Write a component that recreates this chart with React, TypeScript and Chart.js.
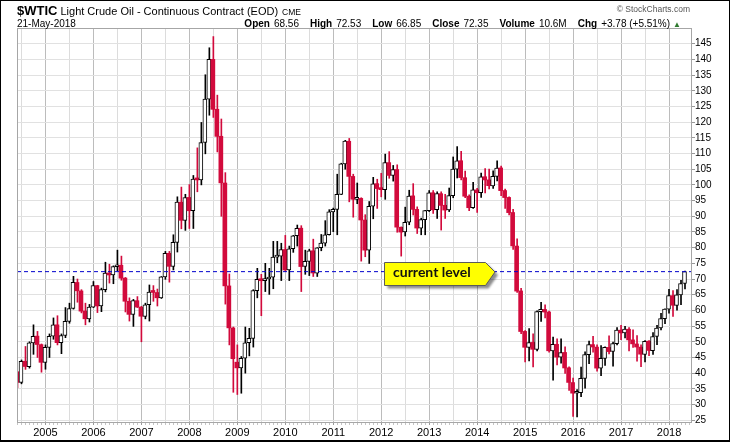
import React, { useEffect, useRef } from "react";
import { Chart, registerables } from "chart.js";

Chart.register(...registerables);

// Monthly candles, Jun 2004 .. May 2018 (168 months). Position index: month offset from Jan 2005.
const FIRST_MONTH_OFFSET = -7;

const opens: number[] = [
  40.4, 37.05, 43.8, 42.1, 49.6, 51.8, 49.1, // 2004 Jun-Dec
  43.45, 48.2, 51.75, 55.4, 49.7, 52.0, 56.5, 60.6, 68.9, 66.2, 59.8, 57.3, // 2005
  61.0, 67.9, 61.4, 66.6, 71.9, 71.3, 73.9, 74.4, 70.3, 62.9, 58.7, 63.1, // 2006
  61.05, 58.1, 61.8, 65.9, 65.7, 64.0, 70.7, 78.2, 74.0, 81.7, 94.5, 88.7, // 2007
  96.0, 91.75, 101.8, 101.6, 113.5, 127.35, 140.0, 124.1, 115.5, 100.6, 67.8, 54.4, // 2008
  43.5, 41.7, 44.8, 49.7, 51.1, 66.3, 69.9, 69.5, 70.0, 70.6, 77.0, 77.3, // 2009
  79.4, 72.9, 79.7, 83.8, 86.2, 74.0, 75.6, 79.0, 71.9, 80.0, 81.4, 84.1, // 2010
  91.4, 92.2, 97.0, 106.7, 113.9, 102.7, 95.4, 95.7, 88.8, 79.2, 93.2, 100.4, // 2011
  98.8, 98.5, 107.1, 103.0, 104.9, 86.5, 85.0, 88.1, 96.5, 92.2, 86.2, 88.9, // 2012
  91.8, 97.5, 92.1, 97.2, 93.5, 92.0, 96.6, 105.0, 107.7, 102.3, 96.4, 92.7, // 2013
  98.4, 97.5, 102.6, 101.6, 99.7, 102.7, 105.4, 98.2, 96.0, 91.2, 80.5, 66.2, // 2014
  53.3, 48.2, 49.8, 47.6, 59.6, 60.3, 59.5, 47.1, 49.2, 45.1, 46.6, 41.7, // 2015
  37.0, 33.6, 33.8, 38.3, 45.9, 49.1, 48.3, 41.6, 44.7, 48.2, 46.9, 49.4, // 2016
  53.7, 52.8, 54.0, 50.6, 49.3, 48.3, 46.0, 50.2, 47.2, 51.7, 54.4, 57.4, // 2017
  60.4, 64.7, 61.6, 64.9, 68.56, // 2018 Jan-May
];

const highs: number[] = [
  40.6, 44.2, 48.5, 50.0, 55.4, 53.3, 49.3,
  49.0, 52.5, 57.6, 58.3, 52.5, 60.9, 62.3, 70.85, 70.0, 66.6, 62.3, 61.9,
  69.2, 68.0, 67.1, 75.35, 74.7, 74.2, 79.2, 77.3, 70.5, 64.0, 63.5, 64.4,
  61.3, 62.3, 68.1, 67.9, 66.8, 70.8, 78.8, 78.8, 84.1, 96.2, 99.3, 97.0,
  100.1, 103.0, 111.8, 119.9, 135.1, 143.7, 147.27, 128.6, 121.0, 103.9, 71.6, 54.7,
  49.0, 45.3, 54.7, 54.3, 66.6, 73.4, 71.5, 75.0, 73.4, 82.0, 82.0, 81.4,
  83.9, 80.5, 83.9, 87.2, 87.0, 79.2, 79.5, 82.7, 80.0, 84.2, 88.6, 92.1,
  92.6, 103.4, 106.9, 114.2, 114.8, 103.4, 100.6, 95.9, 90.5, 94.7, 102.4, 101.8,
  103.7, 109.8, 110.6, 106.2, 106.4, 86.6, 92.9, 98.3, 100.4, 93.0, 89.4, 91.9,
  98.2, 98.2, 97.8, 97.8, 97.0, 99.0, 108.9, 112.2, 110.7, 104.4, 96.8, 100.8,
  98.9, 103.8, 105.2, 105.0, 104.5, 107.7, 106.0, 98.7, 96.2, 92.2, 82.8, 67.0,
  53.6, 54.2, 52.5, 59.9, 62.6, 61.8, 59.8, 51.5, 50.9, 50.9, 48.4, 42.0,
  38.4, 34.8, 41.9, 46.8, 50.2, 51.7, 49.0, 48.8, 48.4, 51.9, 49.9, 54.5,
  55.2, 54.9, 54.5, 53.8, 52.0, 49.0, 50.4, 50.4, 52.9, 55.2, 59.1, 60.5,
  66.7, 66.3, 66.6, 69.6, 72.53,
];

const lows: number[] = [
  35.4, 36.6, 41.2, 41.6, 46.0, 45.0, 40.3,
  41.25, 45.0, 50.8, 49.0, 46.2, 51.3, 55.9, 60.4, 62.6, 59.2, 55.4, 56.3,
  60.9, 59.3, 59.6, 65.9, 68.7, 68.5, 72.6, 69.6, 59.5, 56.6, 54.9, 60.9,
  50.0, 57.3, 56.6, 62.9, 61.4, 63.8, 69.9, 69.0, 72.9, 78.6, 86.0, 85.5,
  86.1, 86.1, 97.8, 100.0, 109.9, 122.2, 121.5, 110.5, 90.0, 62.0, 49.0, 33.9,
  33.2, 33.6, 40.0, 45.5, 48.3, 64.0, 58.3, 66.0, 65.1, 66.9, 75.2, 69.5,
  72.4, 69.5, 78.5, 80.5, 66.0, 71.5, 71.1, 70.8, 70.8, 79.0, 80.5, 84.0,
  85.1, 84.1, 96.9, 105.0, 94.6, 89.7, 94.0, 75.7, 77.1, 74.95, 89.2, 92.5,
  96.2, 95.4, 102.1, 101.2, 84.9, 77.3, 83.7, 87.3, 90.4, 84.5, 84.1, 84.1,
  91.5, 90.9, 89.3, 85.6, 89.3, 91.5, 95.9, 102.2, 101.6, 95.9, 91.8, 92.5,
  91.2, 96.0, 97.4, 98.7, 98.9, 101.3, 96.6, 92.5, 90.4, 79.4, 65.7, 52.6,
  43.6, 43.9, 42.0, 47.1, 56.5, 57.6, 46.7, 37.75, 42.6, 43.2, 39.9, 34.5,
  26.2, 26.05, 32.5, 35.2, 43.0, 46.7, 40.6, 39.2, 42.5, 46.1, 42.2, 49.0,
  50.7, 51.2, 47.1, 48.2, 43.8, 42.05, 43.6, 45.6, 46.0, 49.1, 53.8, 55.8,
  59.1, 58.1, 60.1, 61.8, 66.85,
];

const closes: number[] = [
  37.05, 43.8, 42.12, 49.64, 51.76, 49.13, 43.45,
  48.2, 51.75, 55.4, 49.72, 51.97, 56.5, 60.57, 68.94, 66.24, 59.76, 57.32, 61.04,
  67.92, 61.41, 66.63, 71.88, 71.29, 73.93, 74.4, 70.26, 62.91, 58.73, 63.13, 61.05,
  58.14, 61.79, 65.87, 65.71, 64.01, 70.68, 78.21, 74.04, 81.66, 94.53, 88.71, 95.98,
  91.75, 101.84, 101.58, 113.46, 127.35, 140.0, 124.08, 115.46, 100.64, 67.81, 54.43, 44.6,
  41.68, 44.76, 49.66, 51.12, 66.31, 69.89, 69.45, 69.96, 70.61, 77.0, 77.28, 79.36,
  72.89, 79.66, 83.76, 86.15, 73.97, 75.63, 78.95, 71.92, 79.97, 81.43, 84.11, 91.38,
  92.19, 96.97, 106.72, 113.93, 102.7, 95.42, 95.7, 88.81, 79.2, 93.19, 100.36, 98.83,
  98.48, 107.07, 103.02, 104.87, 86.53, 84.96, 88.06, 96.47, 92.19, 86.24, 88.91, 91.82,
  97.49, 92.05, 97.23, 93.46, 91.97, 96.56, 105.03, 107.65, 102.33, 96.38, 92.72, 98.42,
  97.49, 102.59, 101.58, 99.74, 102.71, 105.37, 98.17, 95.96, 91.16, 80.54, 66.15, 53.27,
  48.24, 49.76, 47.6, 59.63, 60.3, 59.47, 47.12, 49.2, 45.09, 46.59, 41.65, 37.04,
  33.62, 33.75, 38.34, 45.92, 49.1, 48.33, 41.6, 44.7, 48.24, 46.86, 49.44, 53.72,
  52.81, 54.01, 50.6, 49.33, 48.32, 46.04, 50.17, 47.23, 51.67, 54.38, 57.4, 60.42,
  64.73, 61.64, 64.94, 68.57, 72.35,
];

const yearLabels: string[] = [
  "2005", "2006", "2007", "2008", "2009", "2010", "2011",
  "2012", "2013", "2014", "2015", "2016", "2017", "2018",
];

const priceTicks: number[] = [
  25, 30, 35, 40, 45, 50, 55, 60, 65, 70, 75, 80, 85, 90, 95, 100,
  105, 110, 115, 120, 125, 130, 135, 140, 145,
];

const currentLevel = 72.35;

const X_MIN = -7.125;
const X_MAX = 161.5;
// bodies use a twin (hidden) axis shifted by half a pixel so 4px bodies land on whole pixels
const XB_SHIFT = 0.125;
const Y_MIN = 24.43;
const Y_MAX = 150;

const RED = "#d20a3c";
const FONT = "'Liberation Sans', Arial, Helvetica, sans-serif";

const plotFrame = {
  id: "plotFrame",
  afterDatasetsDraw(chart: any) {
    const { ctx, chartArea: a } = chart;
    ctx.save();
    ctx.strokeStyle = "#a6a6a6";
    ctx.lineWidth = 1;
    ctx.strokeRect(a.left + 0.5, a.top + 0.5, a.right - a.left, a.bottom - a.top);
    ctx.restore();
  },
};

export default function App() {
  const canvasRef = useRef<HTMLCanvasElement>(null);

  useEffect(() => {
    const canvas = canvasRef.current;
    if (!canvas) return;
    const pos = closes.map((_, i) => i + FIRST_MONTH_OFFSET);
    const isUp = closes.map((c, i) => c >= opens[i]);

    const monthTicks: { value: number }[] = [];
    for (let m = -7; m <= 161; m++) monthTicks.push({ value: m });

    const chart = new Chart(canvas, {
      type: "bar",
      data: {
        datasets: [
          {
            type: "line",
            data: [
              { x: X_MIN, y: currentLevel },
              { x: X_MAX, y: currentLevel },
            ],
            borderColor: "#0000cc",
            borderWidth: 1,
            borderDash: [4, 3],
            pointRadius: 0,
            tension: 0,
            order: 0,
            clip: 0,
          } as any,
          {
            type: "bar",
            xAxisID: "xb",
            data: pos.map((m, i) => ({ x: m, y: [opens[i], closes[i]] })),
            backgroundColor: (c: any) => (isUp[c.dataIndex] ? "#ffffff" : RED),
            borderColor: (c: any) => (isUp[c.dataIndex] ? "#000000" : RED),
            borderWidth: (c: any) => (isUp[c.dataIndex] ? 1 : 0),
            borderSkipped: false,
            barThickness: 4,
            minBarLength: 2,
            grouped: false,
            order: 1,
            clip: 0,
          } as any,
          {
            type: "bar",
            data: pos.map((m, i) => ({ x: m, y: [lows[i], highs[i]] })),
            backgroundColor: (c: any) => (isUp[c.dataIndex] ? "#000000" : RED),
            borderWidth: 0,
            borderSkipped: false,
            barThickness: 1,
            grouped: false,
            order: 2,
            clip: 0,
          } as any,
        ],
      },
      options: {
        animation: false,
        responsive: false,
        maintainAspectRatio: false,
        layout: { padding: { left: 17, top: 28, right: 0, bottom: 0 } },
        plugins: {
          legend: { display: false },
          tooltip: { enabled: false },
          title: { display: false },
        },
        scales: {
          x: {
            type: "linear",
            position: "bottom",
            min: X_MIN,
            max: X_MAX,
            offset: false,
            border: { display: false },
            grid: {
              offset: false,
              lineWidth: 1,
              drawTicks: true,
              tickLength: 3,
              color: (c: any) => {
                const v = c.tick ? c.tick.value : 1;
                if (v % 12 === 0) return "#bcbcbc";
                if (v % 6 === 0) return "#dcdcdc";
                return "rgba(0,0,0,0)";
              },
              tickColor: (c: any) => {
                const v = c.tick ? c.tick.value : 1;
                return v % 12 === 0 ? "#9a9a9a" : "#c4c4c4";
              },
            },
            afterBuildTicks: (scale: any) => {
              scale.ticks = monthTicks.map((t) => ({ value: t.value }));
            },
            afterFit: (scale: any) => {
              scale.height = 20;
            },
            ticks: {
              autoSkip: false,
              maxRotation: 0,
              minRotation: 0,
              padding: 1,
              color: "#000000",
              font: { family: FONT, size: 11 },
              callback: (v: any) => {
                const n = Number(v);
                if (n % 12 !== 0 || n < 0) return "";
                return yearLabels[n / 12] ?? "";
              },
            },
          },
          xb: {
            type: "linear",
            position: "bottom",
            display: false,
            min: X_MIN + XB_SHIFT,
            max: X_MAX + XB_SHIFT,
            offset: false,
            grid: { display: false, offset: false },
          },
          y: {
            type: "linear",
            position: "right",
            min: Y_MIN,
            max: Y_MAX,
            beginAtZero: false,
            border: { display: false },
            grid: {
              color: "#e1e1e1",
              lineWidth: 1,
              tickLength: 4,
              tickColor: "#9a9a9a",
            },
            afterBuildTicks: (scale: any) => {
              scale.ticks = priceTicks.map((v) => ({ value: v }));
            },
            afterFit: (scale: any) => {
              scale.width = 39;
            },
            ticks: {
              padding: 0,
              color: "#000000",
              font: { family: FONT, size: 10 },
              callback: (v: any) => String(v),
            },
          },
        },
      } as any,
      plugins: [plotFrame],
    });

    return () => chart.destroy();
  }, []);

  const lbl = { fontWeight: "bold" as const };

  return (
    <div
      style={{
        position: "absolute",
        left: 0,
        top: 0,
        width: 730,
        height: 442,
        background: "#ffffff",
        overflow: "hidden",
      }}
    >
      <canvas
        ref={canvasRef}
        width={730}
        height={442}
        style={{ position: "absolute", left: 0, top: 0, width: 730, height: 442, display: "block" }}
      />
      <svg
        width={730}
        height={442}
        viewBox="0 0 730 442"
        style={{ position: "absolute", left: 0, top: 0, pointerEvents: "none" }}
      >
        <defs>
          <filter id="calloutShadow" x="-20%" y="-40%" width="140%" height="180%">
            <feGaussianBlur stdDeviation="1.3" />
          </filter>
        </defs>

        <text x={17} y={15} fontFamily={FONT} fill="#000">
          <tspan fontWeight="bold" fontSize="13">$WTIC</tspan>
          <tspan dx="3" fontSize="11">Light Crude Oil - Continuous Contract (EOD)</tspan>
          <tspan dx="4" fontSize="8.5">CME</tspan>
        </text>
        <text x={690} y={12} fontFamily={FONT} fontSize="8.5" fill="#555" textAnchor="end">
          © StockCharts.com
        </text>
        <text x={17} y={26.5} fontFamily={FONT} fontSize="10" fill="#000">
          21-May-2018
        </text>
        <text x={681} y={26.5} fontFamily={FONT} fontSize="10" fill="#000" textAnchor="end">
          <tspan {...lbl}>Open</tspan>
          <tspan dx="4">68.56</tspan>
          <tspan dx="11" {...lbl}>High</tspan>
          <tspan dx="4">72.53</tspan>
          <tspan dx="11" {...lbl}>Low</tspan>
          <tspan dx="4">66.85</tspan>
          <tspan dx="11" {...lbl}>Close</tspan>
          <tspan dx="4">72.35</tspan>
          <tspan dx="11" {...lbl}>Volume</tspan>
          <tspan dx="4">10.6M</tspan>
          <tspan dx="11" {...lbl}>Chg</tspan>
          <tspan dx="4">+3.78 (+5.51%)</tspan>
          <tspan dx="3" fontSize="8" fill="#2f7a2f">▲</tspan>
        </text>

        <polygon
          points="387.5,265.5 488.5,265.5 498,275 488.5,288.5 387.5,288.5"
          fill="rgba(0,0,0,0.45)"
          filter="url(#calloutShadow)"
        />
        <polygon
          points="384.5,262.5 485.5,262.5 495,272 485.5,285.5 384.5,285.5"
          fill="#ffff00"
          stroke="#5a5a5a"
          strokeWidth="1"
        />
        <text x={393} y={276.5} fontFamily="Lato, 'Open Sans', sans-serif" fontWeight="bold" fontSize="14" fill="#111">
          current level
        </text>

        <rect x={0.5} y={0.5} width={729} height={441} fill="none" stroke="#000" strokeWidth={1} />
        <line x1={0} y1={440.5} x2={730} y2={440.5} stroke="#000" strokeWidth={1} />
      </svg>
    </div>
  );
}
